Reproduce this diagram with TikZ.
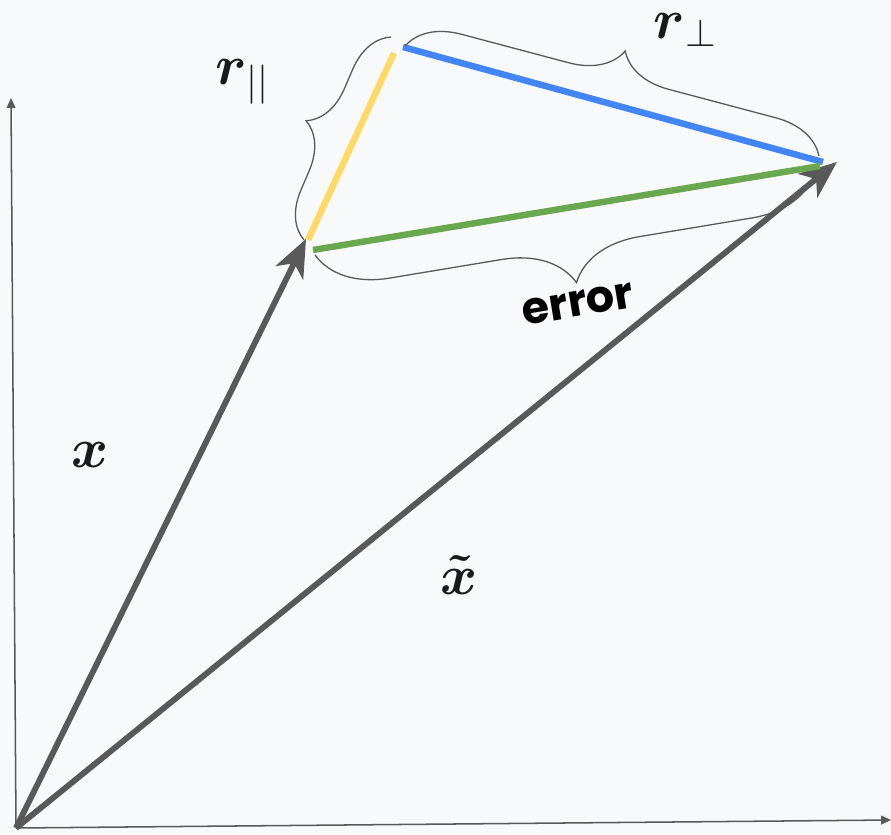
\documentclass[tikz,border=0pt]{standalone}
\usepackage{fix-cm}
\usepackage{amsmath}
\usepackage{amssymb}
\usepackage{fontspec}
\usepackage{tikz}
\usetikzlibrary{arrows.meta,decorations.pathreplacing}
\newfontfamily\poppins{Poppins}
\definecolor{bgcol}{HTML}{F8F9FA}
\definecolor{vecgray}{HTML}{595959}
\definecolor{ylw}{HTML}{FFD966}
\definecolor{blu}{HTML}{4285F4}
\definecolor{grn}{HTML}{6AA84F}
\definecolor{ink}{HTML}{1A1A1A}

\begin{document}
\begin{tikzpicture}[x=0.03cm, y=-0.03cm,
		axis/.style={draw=vecgray, line width=1.3pt, -{Triangle[length=8.5pt, width=7.5pt]}},
		vec/.style={draw=vecgray, line width=5pt, -{Stealth[length=32pt, width=26pt, inset=9pt]}},
		seg/.style={line width=5.5pt},
		curly/.style={draw=vecgray, line width=1.1pt, decorate, decoration={brace, amplitude=#1}},
		lbl/.style={text=ink, inner sep=0pt, font=\fontsize{48}{52}\selectfont}]
		% Canvas and frame.
		\fill[bgcol] (0, 0) rectangle (891, 834);
		\useasboundingbox (0, 0) rectangle (891, 834);
		\coordinate (O) at (16, 828);
		\coordinate (ytop) at (11, 98);
		\coordinate (xright) at (891, 820);
		\draw[axis] (O) -- (ytop);
		\draw[axis] (O) -- (xright);
		% The two vectors.
		\coordinate (xtip) at (306, 239);
		\coordinate (xttip) at (837, 162);
		\draw[vec] (O) -- (xtip);
		\draw[vec] (O) -- (xttip);
		% Triangle of components.
		\coordinate (ya) at (308, 240);
		\coordinate (yb) at (394, 53);
		\coordinate (ba) at (403, 47);
		\coordinate (bb) at (823, 162);
		\coordinate (ga) at (313, 250);
		\coordinate (gb) at (820, 166);
		\draw[seg, ylw] (ya) -- (yb);
		\draw[seg, blu] (ba) -- (bb);
		\draw[seg, grn] (ga) -- (gb);
		% Braces.
		\coordinate (pa) at (304, 240);
		\coordinate (pb) at (391, 37);
		\coordinate (qa) at (405, 46);
		\coordinate (qb) at (819, 156);
		\coordinate (ea) at (815, 172);
		\coordinate (eb) at (315, 255);
		\draw[curly=1.35cm] (pa) -- (pb);
		\draw[curly=1.55cm] (qa) -- (qb);
		\draw[curly=2.1cm] (ea) -- (eb);
		% Labels.
		\node[lbl] (xlab) at (90, 455) {$\boldsymbol{x}$};
		\node[lbl] (xtlab) at (459, 575) {$\boldsymbol{\tilde{x}}$};
		\node[lbl] (rpar) at (242, 82) {$\boldsymbol{r}_{||}$};
		\node[lbl] (rperp) at (685, 30) {$\boldsymbol{r}_{\perp}$};
		\node[inner sep=0pt, font=\poppins\bfseries\fontsize{38}{40}\selectfont, rotate=9.5] (err) at (578, 304) {error};
	\end{tikzpicture}
\end{document}
